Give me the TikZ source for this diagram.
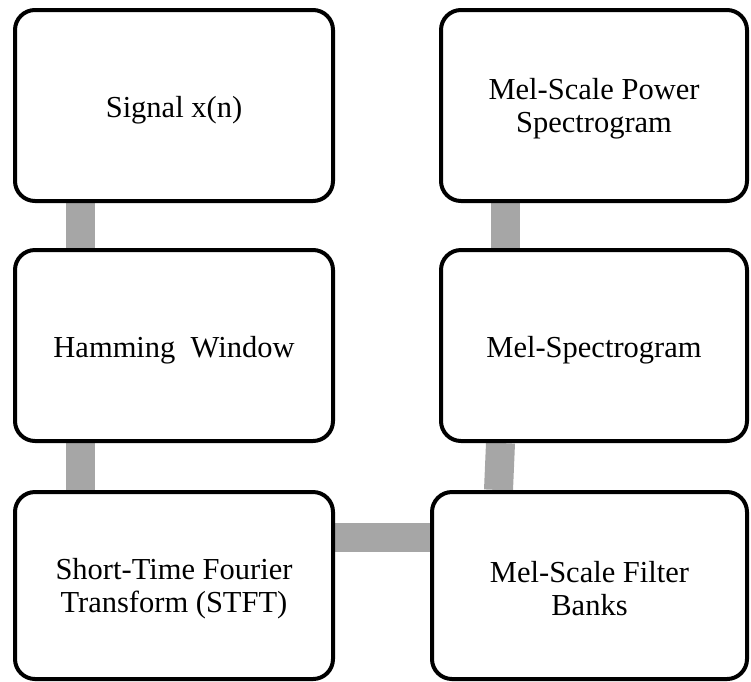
\documentclass[tikz,border=0pt]{standalone}
\usepackage{fontspec}
\setmainfont{Liberation Serif}
\usetikzlibrary{backgrounds}
\definecolor{conngray}{HTML}{A6A6A6}
\newcommand{\dropstrut}[1]{\rule{0pt}{#1}}
\begin{document}
\begin{tikzpicture}[x=1pt,y=-1pt,
  box/.style={draw=black, line width=4pt, rounded corners=20pt, fill=white,
    align=center, inner sep=0pt,
    font=\fontsize{30.5}{33}\selectfont},
  conn/.style={draw=conngray, line width=29pt}]
\useasboundingbox (0,0) rectangle (751,681);
\node[box, minimum width=318pt, minimum height=191pt] (sig) at (174,105.5) {\dropstrut{31pt}Signal x(n)};
\node[box, minimum width=318pt, minimum height=191pt] (ham) at (174,345.5) {\dropstrut{31pt}Hamming\ \ Window};
\node[box, minimum width=318pt, minimum height=187pt] (stft) at (174,585.5) {\dropstrut{27pt}Short-Time Fourier\\Transform (STFT)};
\node[box, minimum width=306pt, minimum height=191pt] (pow) at (594,105.5) {\dropstrut{27pt}Mel-Scale Power\\Spectrogram};
\node[box, minimum width=306pt, minimum height=191pt] (mel) at (594,345.5) {\dropstrut{31pt}Mel-Spectrogram};
\node[box, minimum width=315pt, minimum height=187pt] (fb) at (589.5,585.5) {\dropstrut{27pt}Mel-Scale Filter\\Banks};
\begin{scope}[on background layer]
\draw[conn] ([xshift=-93.5pt]sig.south) -- ([xshift=-93.5pt]ham.north);
\draw[conn] ([xshift=-93.5pt]ham.south) -- ([xshift=-93.5pt]stft.north);
\draw[conn] ([yshift=48.5pt]stft.east) -- ([yshift=48.5pt]fb.west);
\draw[conn] ([xshift=-93.5pt]mel.south) -- ([xshift=-91pt]fb.north);
\draw[conn] ([xshift=-88.5pt]pow.south) -- ([xshift=-88.5pt]mel.north);
\end{scope}
\end{tikzpicture}
\end{document}
